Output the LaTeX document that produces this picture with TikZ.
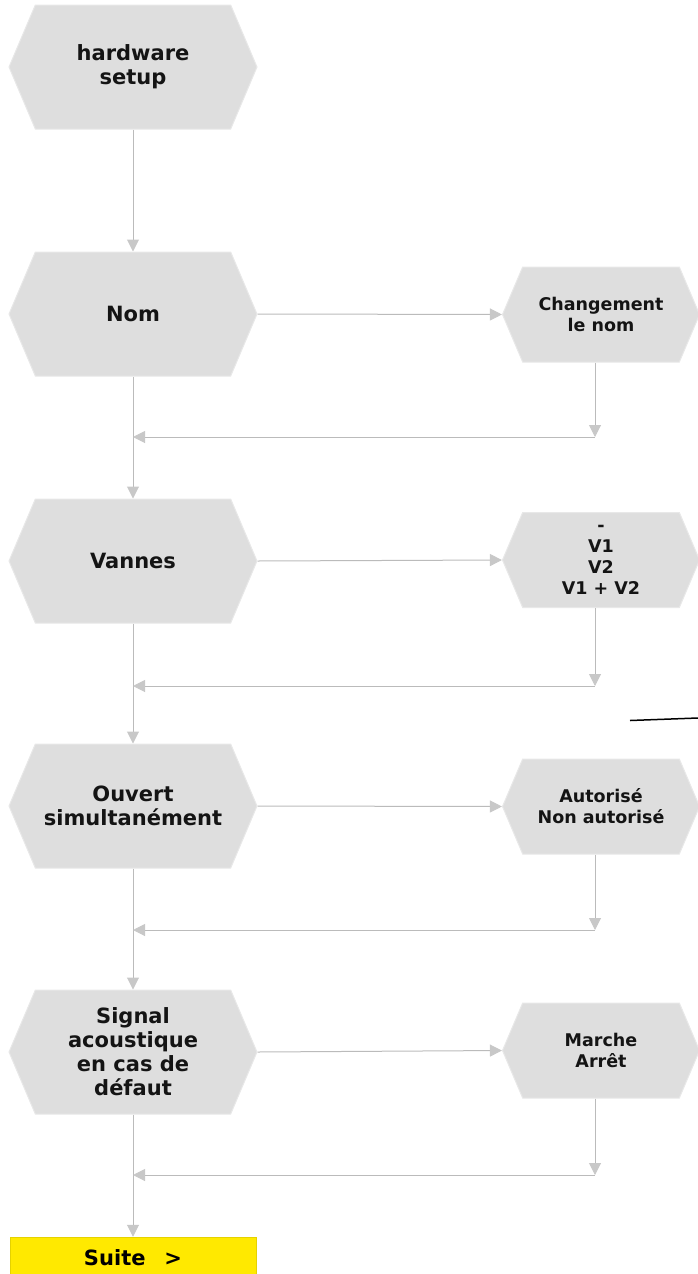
\documentclass[tikz,border=0pt]{standalone}
\usepackage{fontspec}
\setmainfont{DejaVu Sans}
\usetikzlibrary{shapes.symbols,arrows.meta}

\definecolor{boxgray}{HTML}{DEDEDE}
\definecolor{edgegray}{HTML}{E8E8E8}
\definecolor{linegray}{HTML}{BBBBBB}
\definecolor{tipgray}{HTML}{C8C8C8}
\definecolor{suiteyellow}{HTML}{FFE900}

\tikzset{
    stage/.style={signal, signal to=east and west, signal pointer angle=134,
        fill=boxgray, draw=edgegray, line width=1pt, inner sep=0pt,
        minimum width=248pt, minimum height=124pt, align=center, text=black!92,
        font=\fontsize{21}{24}\selectfont\bfseries},
    choice/.style={stage, minimum width=197pt, minimum height=95pt,
        font=\fontsize{17.5}{21}\selectfont\bfseries},
    flow/.style={draw=linegray, line width=1pt,
        -{Triangle[width=12pt,length=12pt,color=tipgray]}},
}

\begin{document}
\begin{tikzpicture}[x=1pt, y=-1pt]
        \useasboundingbox (0,0) rectangle (698,1274);

        % main column
        \node[stage] (setup) at (133,67) {hardware\\setup};
        \node[stage] (nom) at (133,314) {Nom};
        \node[stage] (vannes) at (133,561) {Vannes};
        \node[stage] (ouvert) at (133,806) {Ouvert\\simultanément};
        \node[stage] (alarm) at (133,1052) {Signal\\acoustique\\en cas de\\défaut};
        \node[fill=suiteyellow, draw=suiteyellow!90!black, line width=0.5pt,
            minimum width=246pt, minimum height=42pt, inner sep=0pt,
            font=\fontsize{21}{24}\selectfont\bfseries] (suite) at (133,1258) {Suite\hspace{0.9em}>};

        % options on the right
        \node[choice] (nomchg) at (601,314.5) {Changement\\le nom};
        \node[choice] (vanchoice) at (601,560) {-\\V1\\V2\\V1 + V2};
        \node[choice] (ouvchoice) at (601,806.5) {Autorisé\\Non autorisé};
        \node[choice] (alarmchoice) at (601,1050.5) {Marche\\Arrêt};

        \foreach \a/\b in {setup/nom, nom/vannes, vannes/ouvert, ouvert/alarm, alarm/suite}
            {
                \draw[flow] (\a.south) -- (\b.north);
            }

        \foreach \big/\small/\y in {nom/nomchg/437, vannes/vanchoice/686,
            ouvert/ouvchoice/930, alarm/alarmchoice/1175}
            {
                \coordinate (back) at (595,\y);
                \draw[flow] (\big.east) -- (\small.west);
                \draw[flow] (\small.south -| back) -- (back);
                \draw[flow] (back) -- (back -| \big.south);
            }

        \draw[line width=1.5pt] (630,720.5) -- (698,718);
    \end{tikzpicture}
\end{document}
